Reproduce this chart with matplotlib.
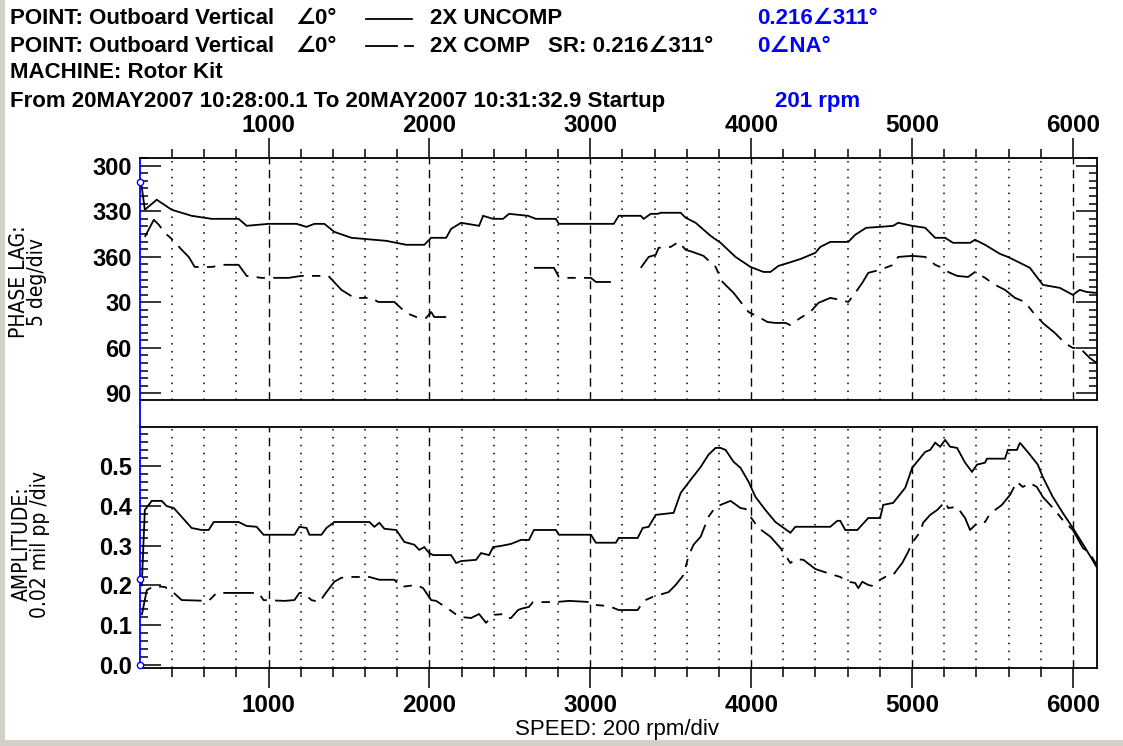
import numpy as np
import matplotlib
matplotlib.use('Agg')
import matplotlib.pyplot as plt
from matplotlib.lines import Line2D
from matplotlib.patches import Rectangle
from matplotlib.ticker import MultipleLocator, FuncFormatter

plt.rcParams['font.family'] = ['Liberation Sans', 'DejaVu Sans']
plt.rcParams['font.weight'] = 'bold'
plt.rcParams['lines.scale_dashes'] = False

nan = np.nan

# 2X UNCOMP phase lag: (speed rpm, phase deg)
unc_phase = [
    (212, 314), (231, 329), (305, 322.4), (398, 329.0), (522, 333.0), (646, 335.0),
    (814, 335.0), (864, 339.6), (1000, 338.3), (1174, 338.3), (1236, 340.3), (1285, 338.3),
    (1347, 338.3), (1409, 343.6), (1515, 347.5), (1732, 349.5), (1856, 352.1), (1968, 352.1),
    (2011, 347.5), (2104, 347.5), (2135, 341.6), (2197, 337.6), (2309, 339.6), (2334, 333.0),
    (2396, 335.0), (2458, 335.0), (2495, 331.7), (2613, 333.0), (2662, 335.0), (2786, 335.0),
    (2805, 338.3), (3004, 338.3), (3146, 338.3), (3177, 333.0), (3314, 333.0), (3332, 335.0),
    (3376, 331.7), (3419, 331.7), (3438, 331.0), (3562, 331.0), (3593, 334.3), (3655, 337.6),
    (3748, 346.2), (3810, 350.8), (3903, 0.1), (3996, 6.7), (4077, 10.0), (4120, 10.0),
    (4170, 6.0), (4232, 4.0), (4306, 1.5), (4399, 357.4), (4430, 353.5), (4492, 350.2),
    (4604, 350.2), (4647, 345.5), (4715, 340.9), (4802, 340.3), (4883, 339.6), (4914, 337.6),
    (5001, 339.6), (5082, 340.9), (5144, 347.5), (5206, 347.5), (5255, 350.8), (5361, 350.8),
    (5392, 348.8), (5454, 352.1), (5547, 358.1), (5596, 0.1), (5671, 4.0), (5733, 7.3),
    (5813, 18.5), (5919, 20.5), (6000, 25.1), (6043, 21.8), (6086, 23.2), (6148, 23.8),
]

# 2X COMP phase lag: (speed rpm, phase deg), nan = no data
comp_phase = [
    (231, 346.9), (287, 335.6), (318, 338.9), (355, 344.2), (411, 349.5), (460, 355.4),
    (504, 0.1), (541, 6.7), (646, 6.7), (727, 5.3), (814, 5.3), (864, 12.6), (957, 13.9),
    (1124, 13.9), (1205, 12.6), (1372, 12.6), (1453, 21.8), (1533, 27.1), (1639, 27.1),
    (1682, 29.8), (1782, 29.8), (1856, 37.0), (1918, 39.7), (1980, 40.3), (2011, 36.4),
    (2030, 39.7), (2104, 39.7), (2180, nan), (2650, 7.3), (2774, 7.3), (2805, 13.3),
    (2867, 13.9), (3004, 13.9), (3035, 16.6), (3128, 16.6), (3200, nan), (3314, 7.3),
    (3363, 0.1), (3407, 358.7), (3425, 354.1), (3500, 353.5), (3549, 350.2), (3593, 355.4),
    (3636, 356.8), (3704, 359.4), (3779, 6.7), (3822, 16.6), (3891, 23.8), (3984, 36.4),
    (4046, 39.7), (4102, 43.0), (4151, 43.6), (4213, 43.6), (4244, 45.0), (4306, 40.3),
    (4368, 36.4), (4418, 30.4), (4492, 27.1), (4554, 28.4), (4604, 29.8), (4647, 23.8),
    (4691, 17.2), (4728, 10.6), (4802, 8.6), (4883, 5.3), (4914, 0.1), (5001, 359.4),
    (5082, 0.1), (5144, 5.3), (5175, 6.7), (5225, 10.0), (5280, 12.6), (5348, 13.3),
    (5392, 10.0), (5454, 13.9), (5516, 18.5), (5578, 21.8), (5640, 27.1), (5702, 29.8),
    (5751, 36.4), (5813, 43.6), (5888, 50.2), (5950, 56.8), (6000, 60.1), (6043, 60.1),
    (6105, 66.7), (6148, 70.0),
]

# 2X UNCOMP amplitude: (speed rpm, mil pp)
unc_amp = [
    (212, 0.20), (231, 0.389), (274, 0.412), (336, 0.412), (367, 0.399), (411, 0.394),
    (460, 0.372), (522, 0.344), (584, 0.339), (628, 0.339), (659, 0.359), (814, 0.359),
    (864, 0.349), (926, 0.347), (969, 0.327), (1161, 0.327), (1192, 0.347), (1236, 0.344),
    (1254, 0.327), (1329, 0.327), (1360, 0.344), (1409, 0.359), (1627, 0.359), (1658, 0.347),
    (1689, 0.357), (1720, 0.342), (1794, 0.339), (1844, 0.309), (1906, 0.302), (1937, 0.289),
    (1968, 0.296), (1999, 0.281), (2023, 0.276), (2135, 0.276), (2166, 0.256), (2197, 0.261),
    (2290, 0.264), (2321, 0.281), (2371, 0.276), (2396, 0.296), (2445, 0.299), (2507, 0.304),
    (2569, 0.314), (2619, 0.314), (2650, 0.339), (2786, 0.339), (2805, 0.327), (3004, 0.327),
    (3035, 0.307), (3159, 0.307), (3177, 0.319), (3295, 0.319), (3326, 0.344), (3363, 0.347),
    (3407, 0.377), (3518, 0.382), (3562, 0.432), (3624, 0.465), (3686, 0.497), (3735, 0.528),
    (3779, 0.545), (3810, 0.545), (3841, 0.540), (3891, 0.510), (3934, 0.495), (3984, 0.460),
    (4027, 0.422), (4089, 0.389), (4151, 0.359), (4244, 0.332), (4275, 0.347), (4492, 0.347),
    (4536, 0.362), (4554, 0.362), (4585, 0.339), (4660, 0.339), (4728, 0.369), (4802, 0.369),
    (4821, 0.402), (4883, 0.407), (4958, 0.445), (5001, 0.495), (5082, 0.535), (5113, 0.540),
    (5144, 0.558), (5175, 0.548), (5206, 0.565), (5237, 0.548), (5280, 0.545), (5330, 0.508),
    (5373, 0.485), (5404, 0.503), (5454, 0.508), (5466, 0.518), (5578, 0.518), (5596, 0.540),
    (5652, 0.540), (5671, 0.558), (5733, 0.528), (5782, 0.503), (5813, 0.472), (5875, 0.422),
    (5937, 0.382), (6000, 0.344), (6074, 0.296), (6148, 0.246),
]

# 2X COMP amplitude: (speed rpm, mil pp)
comp_amp = [
    (212, 0.125), (243, 0.188), (287, 0.198), (355, 0.196), (411, 0.181), (460, 0.163),
    (628, 0.161), (677, 0.181), (814, 0.181), (938, 0.181), (969, 0.163), (1099, 0.161),
    (1161, 0.163), (1192, 0.181), (1217, 0.181), (1267, 0.163), (1316, 0.158), (1360, 0.183),
    (1409, 0.209), (1453, 0.219), (1515, 0.221), (1627, 0.221), (1689, 0.214), (1782, 0.214),
    (1825, 0.196), (1918, 0.201), (1961, 0.193), (2011, 0.163), (2042, 0.161), (2135, 0.136),
    (2185, 0.121), (2259, 0.118), (2309, 0.128), (2352, 0.106), (2402, 0.126), (2464, 0.128),
    (2489, 0.118), (2507, 0.118), (2551, 0.138), (2569, 0.141), (2619, 0.146), (2644, 0.158),
    (2786, 0.158), (2867, 0.161), (3004, 0.158), (3022, 0.151), (3115, 0.148), (3177, 0.138),
    (3295, 0.138), (3332, 0.161), (3388, 0.171), (3487, 0.183), (3531, 0.201), (3580, 0.226),
    (3611, 0.274), (3642, 0.302), (3686, 0.322), (3735, 0.372), (3779, 0.397), (3841, 0.407),
    (3872, 0.412), (3934, 0.394), (3965, 0.392), (3996, 0.372), (4046, 0.344), (4120, 0.322),
    (4182, 0.294), (4244, 0.256), (4275, 0.266), (4325, 0.264), (4399, 0.241), (4474, 0.231),
    (4554, 0.221), (4604, 0.209), (4647, 0.206), (4666, 0.193), (4691, 0.209), (4728, 0.201),
    (4759, 0.198), (4802, 0.214), (4833, 0.221), (4883, 0.226), (4914, 0.243), (4939, 0.256),
    (4976, 0.284), (5001, 0.307), (5051, 0.334), (5069, 0.357), (5113, 0.377), (5156, 0.389),
    (5206, 0.410), (5225, 0.394), (5280, 0.397), (5330, 0.369), (5361, 0.339), (5411, 0.359),
    (5454, 0.359), (5473, 0.372), (5516, 0.389), (5559, 0.402), (5609, 0.427), (5652, 0.460),
    (5689, 0.447), (5733, 0.457), (5776, 0.447), (5813, 0.422), (5888, 0.389), (5937, 0.364),
    (6000, 0.339), (6062, 0.294), (6105, 0.281), (6148, 0.251),
]

cursor_rpm = 201
cursor_phase = 311
cursor_amps = [0.216, 0.0]

W, H = 1123, 746


def fx(x):
    return x / W


def fy(y):
    return 1 - y / H


def unwrap(deg):
    # phase axis runs 300 -> 360 -> 90, so small angles sit past 360
    return np.where(deg < 200, deg + 360, deg)


def phase_label(v, pos):
    v = int(round(v))
    return str(v if v <= 360 else v - 360)


fig = plt.figure(figsize=(W / 100, H / 100), dpi=100)
fig.patch.set_facecolor('white')
ax1 = fig.add_axes([fx(140), fy(400), (1097 - 140) / W, (400 - 158) / H])
ax2 = fig.add_axes([fx(140), fy(668), (1097 - 140) / W, (668 - 427) / H])

solid = dict(color='black', lw=1.3, solid_joinstyle='miter')
dashed = dict(color='black', lw=1.3, linestyle=(0, (22, 6, 6, 6)))

up = np.array(unc_phase, dtype=float)
cp = np.array(comp_phase, dtype=float)
ua = np.array(unc_amp, dtype=float)
ca = np.array(comp_amp, dtype=float)

ax1.plot(up[:, 0], unwrap(up[:, 1]), **solid)
ax1.plot(cp[:, 0], unwrap(cp[:, 1]), **dashed)
ax2.plot(ua[:, 0], ua[:, 1], **solid)
ax2.plot(ca[:, 0], ca[:, 1], **dashed)

for ax in (ax1, ax2):
    ax.set_xlim(cursor_rpm, 6150)
    ax.xaxis.set_major_locator(MultipleLocator(1000))
    ax.xaxis.set_minor_locator(MultipleLocator(200))
    ax.xaxis.grid(True, which='major', color='black', lw=1.0, linestyle=(0, (6, 4)))
    ax.xaxis.grid(True, which='minor', color='black', lw=1.1, linestyle=(0, (1.1, 4.6)))
    ax.set_axisbelow(True)
    for s in ax.spines.values():
        s.set_linewidth(1.3)
    ax.spines['left'].set_color('blue')
    ax.tick_params(axis='x', which='major', direction='out', length=14.4, width=1.1,
                   labelsize=17.5)
    ax.tick_params(axis='x', which='minor', direction='out', length=6.5, width=1.1)
    ax.tick_params(axis='y', which='major', direction='in', length=15, width=1.1,
                   labelsize=17, pad=6)
    ax.tick_params(axis='y', which='minor', direction='in', length=5.8, width=1.1)

# phase panel
ax1.set_ylim(454.4, 294.9)
ax1.yaxis.set_major_locator(MultipleLocator(30))
ax1.yaxis.set_minor_locator(MultipleLocator(5))
ax1.yaxis.set_major_formatter(FuncFormatter(phase_label))
ax1.tick_params(axis='x', which='both', top=True, bottom=False,
                labeltop=True, labelbottom=False, pad=0.5)
ax1.tick_params(axis='y', which='both', left=True, right=True)

# amplitude panel
ax2.set_ylim(-0.0075, 0.5975)
ax2.yaxis.set_major_locator(MultipleLocator(0.1))
ax2.yaxis.set_minor_locator(MultipleLocator(0.02))
ax2.yaxis.set_major_formatter(FuncFormatter(lambda v, p: f'{v:.1f}'))
ax2.tick_params(axis='x', which='both', top=False, bottom=True, pad=4)
ax2.tick_params(axis='y', which='both', left=True, right=False)

# cursor markers
mk = dict(marker='o', ms=4.5, mfc='white', mec='blue', mew=1.0, ls='none',
          clip_on=False, zorder=5)
ax1.plot([cursor_rpm], [cursor_phase], **mk)
ax2.plot([cursor_rpm] * len(cursor_amps), cursor_amps, **mk)
fig.add_artist(Line2D([fx(140), fx(140)], [fy(400), fy(427)], color='blue', lw=1.3))

# axis titles (narrow face)
lab = dict(fontsize=15, fontweight='normal', fontstretch='condensed', rotation=90,
           ha='center', va='center', multialignment='center', linespacing=0.85,
           family=['DejaVu Sans'])
fig.text(fx(28), fy(282), 'PHASE LAG:\n5 deg/div', **lab)
fig.text(fx(31), fy(544), 'AMPLITUDE:\n0.02 mil pp /div', **lab)
fig.text(fx(617), fy(730), 'SPEED: 200 rpm/div', fontsize=16, fontweight='normal',
         ha='center', va='center')

# header
hd = dict(fontsize=16, fontweight='bold', va='center', ha='left')
fig.text(fx(10), fy(19), 'POINT: Outboard Vertical', **hd)
fig.text(fx(295), fy(19), '\u22200\u00b0', **hd)
fig.text(fx(430), fy(19), '2X UNCOMP', **hd)
fig.text(fx(757), fy(19), '0.216\u2220311\u00b0', color='blue', **hd)
fig.text(fx(10), fy(46), 'POINT: Outboard Vertical', **hd)
fig.text(fx(295), fy(46), '\u22200\u00b0', **hd)
fig.text(fx(430), fy(46), '2X COMP', **hd)
fig.text(fx(548), fy(46), 'SR: 0.216\u2220311\u00b0', **hd)
fig.text(fx(757), fy(46), '0\u2220NA\u00b0', color='blue', **hd)
fig.text(fx(10), fy(73), 'MACHINE: Rotor Kit', **hd)
fig.text(fx(10), fy(101), 'From 20MAY2007 10:28:00.1 To 20MAY2007 10:31:32.9 Startup', **hd)
fig.text(fx(775), fy(101), '201 rpm', color='blue', **hd)

# legend samples
fig.add_artist(Line2D([fx(366), fx(412)], [fy(19), fy(19)], color='black', lw=1.3))
fig.add_artist(Line2D([fx(366), fx(397)], [fy(46), fy(46)], color='black', lw=1.3))
fig.add_artist(Line2D([fx(405), fx(413)], [fy(46), fy(46)], color='black', lw=1.3))

# window border
fig.add_artist(Rectangle((0, 0), fx(5), 1, transform=fig.transFigure,
                         facecolor='#d4d0c8', edgecolor='none'))
fig.add_artist(Rectangle((0, 0), 1, 6 / H, transform=fig.transFigure,
                         facecolor='#d4d0c8', edgecolor='none'))

fig.savefig('out.png', dpi=100, facecolor='white')
